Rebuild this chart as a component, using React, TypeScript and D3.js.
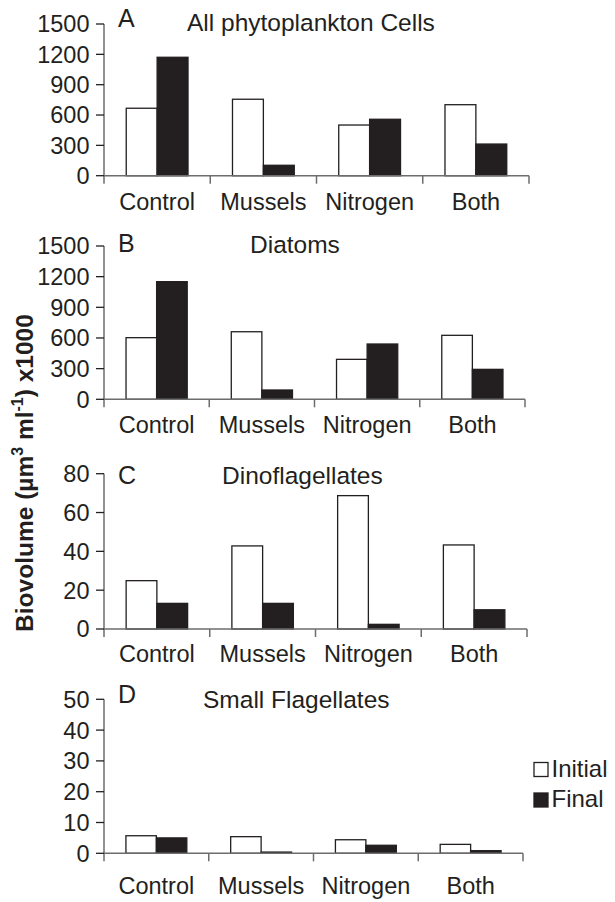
import React from "react";
import * as d3 from "d3";

const categories = ["Control", "Mussels", "Nitrogen", "Both"];
const seriesNames = ["Initial", "Final"];

const allInitial = [667, 756, 501, 702];
const allFinal = [1171, 103, 558, 313];
const diatomInitial = [603, 661, 391, 626];
const diatomFinal = [1151, 91, 541, 293];
const dinoInitial = [24.9, 42.8, 68.7, 43.3];
const dinoFinal = [13.2, 13.2, 2.4, 9.9];
const smallInitial = [5.7, 5.4, 4.4, 2.9];
const smallFinal = [5.0, 0.4, 2.6, 0.85];

const ticksBig = [0, 300, 600, 900, 1200, 1500];
const ticksDino = [0, 20, 40, 60, 80];
const ticksSmall = [0, 10, 20, 30, 40, 50];

const panelLetters = ["A", "B", "C", "D"];
const panelTitles = ["All phytoplankton Cells", "Diatoms", "Dinoflagellates", "Small Flagellates"];
const panelInitial = [allInitial, diatomInitial, dinoInitial, smallInitial];
const panelFinal = [allFinal, diatomFinal, dinoFinal, smallFinal];
const panelTicks = [ticksBig, ticksBig, ticksDino, ticksSmall];

const yLabel = "Biovolume (µm";

// layout (pixels)
const layout = [
  { top: 24, bottom: 175.7, left: 104, right: 529, catY: 210, letterY: 27, titleX: 187, titleY: 31 },
  { top: 246, bottom: 399.3, left: 104, right: 525, catY: 433, letterY: 252, titleX: 250, titleY: 253 },
  { top: 473.7, bottom: 629, left: 104, right: 527, catY: 662, letterY: 484, titleX: 222, titleY: 484 },
  { top: 699.3, bottom: 853.3, left: 104, right: 523, catY: 894, letterY: 703, titleX: 203, titleY: 708 },
];

const FONT = "'Liberation Sans', Arial, Helvetica, sans-serif";
const INK = "#231f20";
const AXIS = "#6d6d6d";

function Panel({ i }: { i: number }) {
  const L = layout[i];
  const ticks = panelTicks[i];
  const y = d3.scaleLinear().domain([0, ticks[ticks.length - 1]]).range([L.bottom, L.top]);
  const x = d3.scaleBand<string>().domain(categories).range([L.left, L.right]).paddingInner(0).paddingOuter(0);
  const xs = d3.scaleBand<string>().domain(seriesNames).range([0, x.bandwidth()]).paddingInner(0).paddingOuter(0.72);
  const vals = [panelInitial[i], panelFinal[i]];
  return (
    <g>
      {/* y axis */}
      <line x1={L.left} x2={L.left} y1={y(ticks[ticks.length - 1])} y2={L.bottom + 8} stroke={AXIS} strokeWidth={1.5} />
      {ticks.map((t) => (
        <g key={t}>
          <line x1={L.left - 8} x2={L.left} y1={y(t)} y2={y(t)} stroke={INK} strokeWidth={1.3} />
          <text x={L.left - 14.5} y={y(t)} dy="0.36em" textAnchor="end" fontSize={23.5} fill={INK} fontFamily={FONT}>
            {t}
          </text>
        </g>
      ))}
      {/* bars */}
      {categories.map((c, ci) => (
        <g key={c}>
          {seriesNames.map((s, si) => {
            const v = vals[si][ci];
            const x0 = (x(c) as number) + (xs(s) as number);
            return (
              <rect
                key={s}
                x={x0}
                y={y(v)}
                width={xs.bandwidth()}
                height={L.bottom - y(v)}
                fill={si === 0 ? "#ffffff" : INK}
                stroke={INK}
                strokeWidth={1.3}
              />
            );
          })}
        </g>
      ))}
      {/* x axis */}
      <line x1={L.left} x2={L.right} y1={L.bottom} y2={L.bottom} stroke={AXIS} strokeWidth={1.5} />
      {categories.map((c) => (
        <line key={c} x1={(x(c) as number) + x.bandwidth()} x2={(x(c) as number) + x.bandwidth()} y1={L.bottom} y2={L.bottom + 8} stroke={AXIS} strokeWidth={1.5} />
      ))}
      {categories.map((c) => (
        <text key={c} x={(x(c) as number) + x.bandwidth() / 2} y={L.catY} textAnchor="middle" fontSize={23.5} fill={INK} fontFamily={FONT}>
          {c}
        </text>
      ))}
      <text x={L.left + 14} y={L.letterY} fontSize={25} fill={INK} fontFamily={FONT}>
        {panelLetters[i]}
      </text>
      <text x={L.titleX} y={L.titleY} fontSize={24.5} fill={INK} fontFamily={FONT}>
        {panelTitles[i]}
      </text>
    </g>
  );
}

export default function App() {
  return (
    <div style={{ position: "absolute", left: 0, top: 0 }}>
      <svg width={615} height={902} style={{ display: "block", background: "#fff" }}>
        {panelLetters.map((_, i) => (
          <Panel key={i} i={i} />
        ))}
        {/* y label */}
        <text
          transform="translate(33,473) rotate(-90)"
          textAnchor="middle"
          fontSize={24.5}
          fontWeight="bold"
          fill={INK}
          fontFamily={FONT}
        >
          {yLabel}
          <tspan dy={-10} fontSize={16}>3</tspan>
          <tspan dy={10}> ml</tspan>
          <tspan dy={-10} fontSize={16}>-1</tspan>
          <tspan dy={10}>) x1000</tspan>
        </text>
        {/* legend */}
        {seriesNames.map((s, si) => (
          <g key={s}>
            <rect x={534} y={762.5 + si * 30.5} width={14} height={14} fill={si === 0 ? "#fff" : INK} stroke={INK} strokeWidth={1.3} />
            <text x={551.5} y={776.7 + si * 30.5} fontSize={24} fill={INK} fontFamily={FONT}>
              {s}
            </text>
          </g>
        ))}
      </svg>
    </div>
  );
}
